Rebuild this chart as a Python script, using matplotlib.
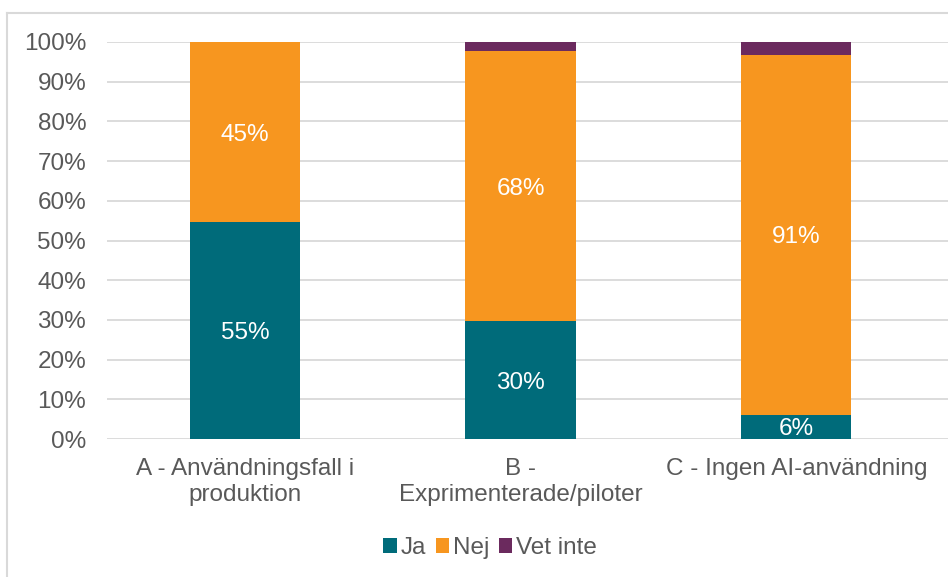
import numpy as np
import matplotlib
matplotlib.use("Agg")
import matplotlib.pyplot as plt
from matplotlib.lines import Line2D
from matplotlib.ticker import PercentFormatter

plt.rcParams['font.family'] = ['Liberation Sans', 'DejaVu Sans']

# data
categories = ['A - Användningsfall i\nproduktion', 'B -\nExprimenterade/piloter', 'C - Ingen AI-användning']
ja = [54.6, 29.6, 6.1]
nej = [45.4, 68.2, 90.7]
vet_inte = [0.0, 2.2, 3.2]
series_names = ['Ja', 'Nej', 'Vet inte']
colors = ['#006B7A', '#F7961F', '#6B2A5E']

grey = '#595959'
fs = 17.5
W, H = 948, 577
fig = plt.figure(figsize=(W / 100, H / 100), dpi=100)
ax = fig.add_axes([107 / W, 1 - 439 / H, (W - 107) / W, (439 - 42) / H])

x = np.arange(len(categories))
bottom = np.zeros(len(categories))
for vals, name, col in zip([ja, nej, vet_inte], series_names, colors):
    vals = np.array(vals)
    ax.bar(x, vals, 0.4, bottom=bottom, color=col, label=name, zorder=3)
    for xi, b, v in zip(x, bottom, vals):
        if v >= 5:
            ax.text(xi, b + v / 2, f"{v:.0f}%", ha='center', va='center_baseline',
                    color='white', fontsize=fs, zorder=4)
    bottom += vals

ax.set_xlim(-0.5, 2.55)
ax.set_ylim(0, 100)
ax.set_yticks(np.arange(0, 101, 10))
ax.yaxis.set_major_formatter(PercentFormatter(decimals=0))
ax.set_xticks(x)
ax.set_xticklabels(categories, fontsize=fs, color=grey, linespacing=1.2)
ax.tick_params(axis='y', labelsize=fs, labelcolor=grey, length=0, pad=15)
ax.tick_params(axis='x', length=0, pad=14)
ax.grid(axis='y', color='#D9D9D9', linewidth=1.3, zorder=0)
for s in ax.spines.values():
    s.set_visible(False)

# chart border
fig.add_artist(Line2D([7 / W, 7 / W], [0, 1 - 13 / H], color='#D9D9D9', linewidth=1.5))
fig.add_artist(Line2D([7 / W, 1], [1 - 13 / H, 1 - 13 / H], color='#D9D9D9', linewidth=1.5))

handles, labels = ax.get_legend_handles_labels()
fig.legend(handles, labels, loc='center', bbox_to_anchor=(490 / W, 1 - 548 / H), ncol=3,
           frameon=False, fontsize=fs, labelcolor=grey, handlelength=0.55, handleheight=0.55,
           handletextpad=0.15, columnspacing=0.4)

fig.savefig('out.png', dpi=100)
